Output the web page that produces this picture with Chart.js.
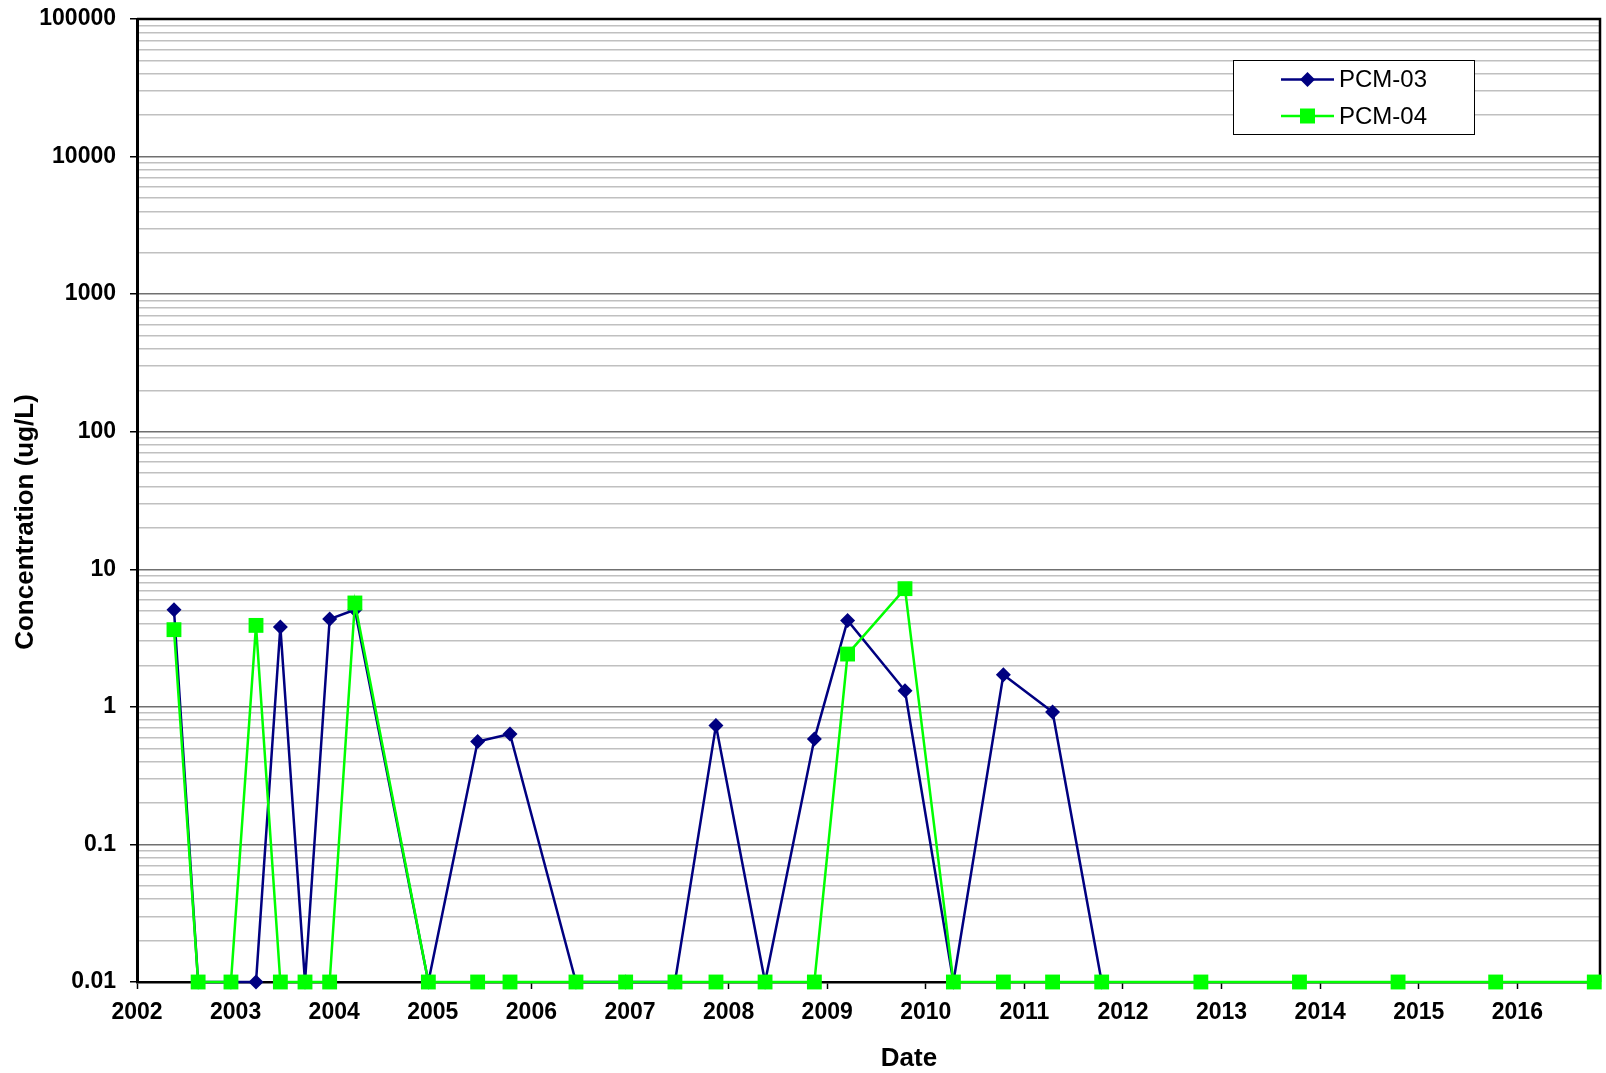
<!DOCTYPE html>
<html>
<head>
<meta charset="utf-8">
<script src="https://cdn.jsdelivr.net/npm/chart.js@4.4.1/dist/chart.umd.min.js"></script>
<style>
  html, body { margin: 0; padding: 0; background: #ffffff; }
  #wrap { width: 1606px; height: 1073px; position: relative; }
</style>
</head>
<body>
<div id="wrap"><canvas id="c" width="1606" height="1073"></canvas></div>
<script>
// Sampling dates (decimal years)
const dates = [2002.375, 2002.62, 2002.953, 2003.207, 2003.454, 2003.704, 2003.954, 2004.21,
  2004.955, 2005.455, 2005.783, 2006.452, 2006.956, 2007.456, 2007.872, 2008.37, 2008.87,
  2009.207, 2009.789, 2010.28, 2010.787, 2011.286, 2011.784, 2012.79, 2013.79, 2014.79,
  2015.78, 2016.78];
// Concentration (ug/L)
const pcm03 = [5.08, 0.01, 0.01, 0.01, 3.81, 0.01, 4.35, 5.08,
  0.01, 0.56, 0.635, 0.01, 0.01, 0.01, 0.733, 0.01, 0.583,
  4.25, 1.31, 0.01, 1.71, 0.918, 0.01, null, null, null,
  null, null];
const pcm04 = [3.64, 0.01, 0.01, 3.91, 0.01, 0.01, 0.01, 5.69,
  0.01, 0.01, 0.01, 0.01, 0.01, 0.01, 0.01, 0.01, 0.01,
  2.42, 7.23, 0.01, 0.01, 0.01, 0.01, 0.01, 0.01, 0.01,
  0.01, 0.01];
const seriesNames = ['PCM-03', 'PCM-04'];
const yearTicks = [2002, 2003, 2004, 2005, 2006, 2007, 2008, 2009, 2010, 2011, 2012, 2013, 2014, 2015, 2016];
const decadeTicks = [0.01, 0.1, 1, 10, 100, 1000, 10000, 100000];
const xTitle = 'Date';
const yTitle = 'Concentration (ug/L)';

const FONT = "'Liberation Sans', Arial, sans-serif";
const NAVY = '#000080';
const GREEN = '#00FF00';

function toPoints(vals) {
  const pts = [];
  vals.forEach((v, i) => { if (v !== null) pts.push({ x: dates[i], y: v }); });
  return pts;
}

function isDecade(v) {
  const l = Math.log10(v);
  return Math.abs(l - Math.round(l)) < 1e-9;
}

const framePlugin = {
  id: 'frame',
  beforeDatasetsDraw(chart) {
    const { ctx, chartArea: a } = chart;
    ctx.save();
    ctx.strokeStyle = '#000';
    ctx.lineWidth = 2.5;
    ctx.beginPath();
    ctx.moveTo(a.left, a.top);
    ctx.lineTo(a.right, a.top);
    ctx.lineTo(a.right, a.bottom);
    ctx.stroke();
    ctx.restore();
  },
  afterDraw(chart) {
    const { ctx } = chart;
    ctx.save();
    // axis titles
    ctx.fillStyle = '#000';
    ctx.font = 'bold 26px ' + FONT;
    ctx.textAlign = 'center';
    ctx.textBaseline = 'middle';
    ctx.fillText(xTitle, 909, 1059);
    ctx.save();
    ctx.translate(26, 522);
    ctx.rotate(-Math.PI / 2);
    ctx.fillText(yTitle, 0, 0);
    ctx.restore();

    // legend box
    const bx = 1233, by = 60.5, bw = 241, bh = 74;
    ctx.fillStyle = '#fff';
    ctx.fillRect(bx, by, bw, bh);
    ctx.strokeStyle = '#000';
    ctx.lineWidth = 1;
    ctx.strokeRect(bx + 0.5, by, bw, bh);
    const rows = [
      { name: seriesNames[0], color: NAVY, shape: 'diamond', y: 79.5 },
      { name: seriesNames[1], color: GREEN, shape: 'square', y: 116 }
    ];
    rows.forEach(r => {
      ctx.strokeStyle = r.color;
      ctx.lineWidth = 2.5;
      ctx.beginPath();
      ctx.moveTo(1281, r.y);
      ctx.lineTo(1334, r.y);
      ctx.stroke();
      ctx.fillStyle = r.color;
      const cx = 1307.5;
      ctx.beginPath();
      if (r.shape === 'diamond') {
        ctx.moveTo(cx - 7.5, r.y);
        ctx.lineTo(cx, r.y - 7.5);
        ctx.lineTo(cx + 7.5, r.y);
        ctx.lineTo(cx, r.y + 7.5);
        ctx.closePath();
      } else {
        ctx.rect(cx - 7.5, r.y - 7.5, 15, 15);
      }
      ctx.fill();
      ctx.fillStyle = '#000';
      ctx.font = '24px ' + FONT;
      ctx.textAlign = 'left';
      ctx.textBaseline = 'middle';
      ctx.fillText(r.name, 1339, r.y + 1);
    });
    ctx.restore();
  }
};

new Chart(document.getElementById('c'), {
  type: 'line',
  data: {
    datasets: [
      {
        label: seriesNames[0],
        data: toPoints(pcm03),
        borderColor: NAVY,
        backgroundColor: NAVY,
        borderWidth: 2.5,
        pointStyle: 'rectRot',
        pointRadius: 7.5,
        pointBorderWidth: 0,
        pointBackgroundColor: NAVY,
        pointBorderColor: NAVY,
        tension: 0,
        clip: false,
        order: 1
      },
      {
        label: seriesNames[1],
        data: toPoints(pcm04),
        borderColor: GREEN,
        backgroundColor: GREEN,
        borderWidth: 2.5,
        pointStyle: 'rect',
        pointRadius: 10.5,
        pointBorderWidth: 0,
        pointBackgroundColor: GREEN,
        pointBorderColor: GREEN,
        tension: 0,
        clip: false,
        order: 0
      }
    ]
  },
  options: {
    responsive: false,
    animation: false,
    devicePixelRatio: 1,
    layout: { autoPadding: false, padding: { left: 0, right: 6, top: 19, bottom: 0 } },
    plugins: {
      legend: { display: false },
      tooltip: { enabled: false },
      title: { display: false }
    },
    scales: {
      x: {
        type: 'linear',
        min: 2002,
        max: 2016.838,
        afterBuildTicks(scale) { scale.ticks = yearTicks.map(v => ({ value: v })); },
        afterFit(scale) { scale.height = 91; scale.paddingLeft = 0; scale.paddingRight = 0; },
        ticks: {
          autoSkip: false,
          maxRotation: 0,
          padding: 10,
          color: '#000',
          font: { family: FONT, size: 23, weight: 'bold' },
          callback: v => String(v)
        },
        grid: {
          drawOnChartArea: false,
          drawTicks: true,
          tickLength: 7,
          tickColor: '#000',
          tickWidth: 1.5
        },
        border: { display: true, color: '#000', width: 2.5 }
      },
      y: {
        type: 'logarithmic',
        min: 0.01,
        max: 100000,
        afterBuildTicks(scale) {
          const t = [];
          for (let e = -2; e <= 4; e++) {
            for (let m = 1; m <= 9; m++) {
              t.push({ value: Number((m * Math.pow(10, e)).toPrecision(10)) });
            }
          }
          t.push({ value: decadeTicks[decadeTicks.length - 1] });
          scale.ticks = t;
        },
        afterFit(scale) { scale.width = 137; scale.paddingTop = 0; scale.paddingBottom = 0; },
        ticks: {
          autoSkip: false,
          padding: 14,
          color: '#000',
          font: { family: FONT, size: 23, weight: 'bold' },
          callback: function (v) {
            const idx = decadeTicks.findIndex(d => Math.abs(d - v) / d < 1e-9);
            return idx >= 0 ? String(decadeTicks[idx]) : '';
          }
        },
        grid: {
          drawOnChartArea: true,
          drawTicks: true,
          tickLength: 7,
          color: ctx => (ctx.tick && isDecade(ctx.tick.value)) ? '#707070' : '#c0c0c0',
          lineWidth: 1.5,
          tickColor: ctx => (ctx.tick && isDecade(ctx.tick.value)) ? '#000' : 'rgba(0,0,0,0)',
          tickWidth: 1.5
        },
        border: { display: true, color: '#000', width: 3 },
        title: { display: false }
      }
    }
  },
  plugins: [framePlugin]
});
</script>
</body>
</html>
